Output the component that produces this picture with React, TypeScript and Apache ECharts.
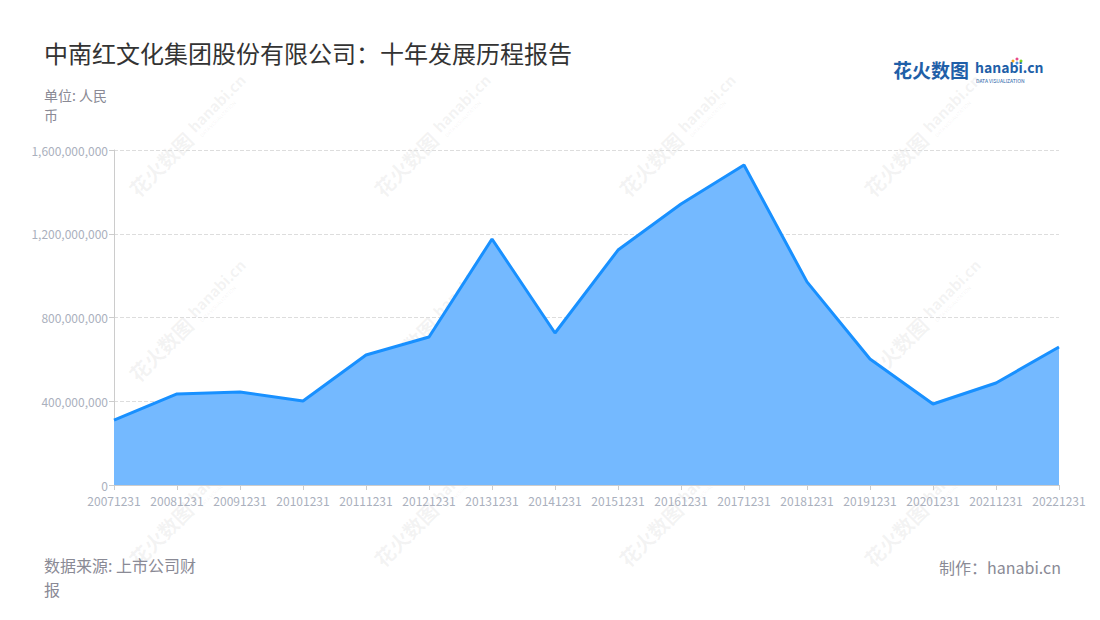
import React, { useEffect, useRef } from "react";
import * as echarts from "echarts";

const categories = [
  "20071231", "20081231", "20091231", "20101231", "20111231", "20121231",
  "20131231", "20141231", "20151231", "20161231", "20171231", "20181231",
  "20191231", "20201231", "20211231", "20221231",
];
const values = [
  310000000, 435000000, 444000000, 401000000, 621000000, 707000000,
  1175000000, 726000000, 1122000000, 1342000000, 1528000000, 970000000,
  602000000, 387000000, 487000000, 659000000,
];
const yTicks = { min: 0, max: 1600000000, interval: 400000000 };
const title = "中南红文化集团股份有限公司：十年发展历程报告";
const unitLines = ["单位: 人民", "币"];
const sourceLines = ["数据来源: 上市公司财", "报"];
const makerText = "制作：hanabi.cn";

const FONT = "'Noto Sans CJK SC', 'Noto Sans', sans-serif";

export default function App() {
  const ref = useRef<HTMLDivElement>(null);
  useEffect(() => {
    if (!ref.current) return;
    const chart = echarts.init(ref.current, null, { renderer: "svg" });
    const wmCols = [175, 420, 665, 910];
    const wmRows = [150, 335, 520];
    const wmColor = "rgba(160,160,160,0.13)";
    const watermarks: any[] = [];
    wmRows.forEach((y) =>
      wmCols.forEach((x) => {
        watermarks.push({
          type: "group",
          x,
          y,
          rotation: Math.PI / 4,
          silent: true,
          z: 100,
          children: [
            {
              type: "text",
              x: -60,
              y: 0,
              style: {
                text: "花火数图",
                font: `bold 20px ${FONT}`,
                fill: wmColor,
                textVerticalAlign: "middle",
              },
            },
            {
              type: "text",
              x: 26,
              y: -4,
              style: {
                text: "hanabi.cn",
                font: `bold 15px ${FONT}`,
                fill: wmColor,
                textVerticalAlign: "middle",
              },
            },
            {
              type: "text",
              x: 28,
              y: 8,
              style: {
                text: "DATA VISUALIZATION",
                font: `5px ${FONT}`,
                fill: wmColor,
                textVerticalAlign: "middle",
              },
            },
          ],
        });
      })
    );
    const gray = "#8a8a95";
    chart.setOption({
      animation: false,
      backgroundColor: "#fff",
      textStyle: { fontFamily: FONT },
      grid: { left: 114, right: 41, top: 150, bottom: 135 },
      xAxis: {
        type: "category",
        data: categories,
        boundaryGap: false,
        axisLine: { lineStyle: { color: "#cccccc" } },
        axisTick: { show: true, alignWithLabel: true, lineStyle: { color: "#cccccc" } },
        axisLabel: { color: "#aab0bd", fontSize: 12, interval: 0, margin: 9 },
      },
      yAxis: {
        type: "value",
        min: yTicks.min,
        max: yTicks.max,
        interval: yTicks.interval,
        axisLine: { show: true, lineStyle: { color: "#cccccc" } },
        axisTick: { show: true, lineStyle: { color: "#cccccc" } },
        axisLabel: {
          color: "#aab0bd",
          fontSize: 12,
          margin: 6,
          formatter: (v: number) => v.toLocaleString("en-US"),
        },
        splitLine: { lineStyle: { color: "#dddddd", type: "dashed" } },
      },
      series: [
        {
          type: "line",
          data: values,
          symbol: "none",
          lineStyle: { color: "#1890ff", width: 3 },
          areaStyle: { color: "#74b9ff", opacity: 1 },
        },
      ],
      graphic: [
        {
          type: "text",
          left: 44,
          top: 40,
          style: { text: title, font: `24px ${FONT}`, fill: "#333333" },
        },
        {
          type: "text",
          left: 44,
          top: 87,
          style: { text: unitLines[0], font: `14px ${FONT}`, fill: gray, lineHeight: 16 },
        },
        {
          type: "text",
          left: 44,
          top: 107,
          style: { text: unitLines[1], font: `14px ${FONT}`, fill: gray, lineHeight: 16 },
        },
        {
          type: "text",
          left: 44,
          top: 556,
          style: { text: sourceLines[0], font: `16px ${FONT}`, fill: gray, lineHeight: 18 },
        },
        {
          type: "text",
          left: 44,
          top: 580,
          style: { text: sourceLines[1], font: `16px ${FONT}`, fill: gray, lineHeight: 18 },
        },
        {
          type: "text",
          right: 39,
          top: 558,
          style: { text: makerText, font: `16px ${FONT}`, fill: gray, lineHeight: 18 },
        },
        {
          type: "text",
          left: 893,
          top: 60,
          style: { text: "花火数图", font: `bold 19px ${FONT}`, fill: "#1f5fa8" },
        },
        {
          type: "text",
          left: 975,
          top: 60,
          style: { text: "hanabi.cn", font: `bold 14px ${FONT}`, fill: "#1f5fa8" },
        },
        {
          type: "text",
          left: 976,
          top: 78,
          style: { text: "DATA VISUALIZATION", font: `5px ${FONT}`, fill: "#1f5fa8" },
        },
        { type: "circle", shape: { cx: 1013, cy: 61, r: 1.5 }, style: { fill: "#f5a623" } },
        { type: "circle", shape: { cx: 1017, cy: 59, r: 1.5 }, style: { fill: "#e94b8a" } },
        { type: "circle", shape: { cx: 1021, cy: 61, r: 1.5 }, style: { fill: "#7ed321" } },
        { type: "circle", shape: { cx: 1017, cy: 63, r: 1.5 }, style: { fill: "#4a90e2" } },
        ...watermarks,
      ],
    });
    return () => chart.dispose();
  }, []);
  return <div ref={ref} style={{ width: 1100, height: 620, margin: -8 }} />;
}
